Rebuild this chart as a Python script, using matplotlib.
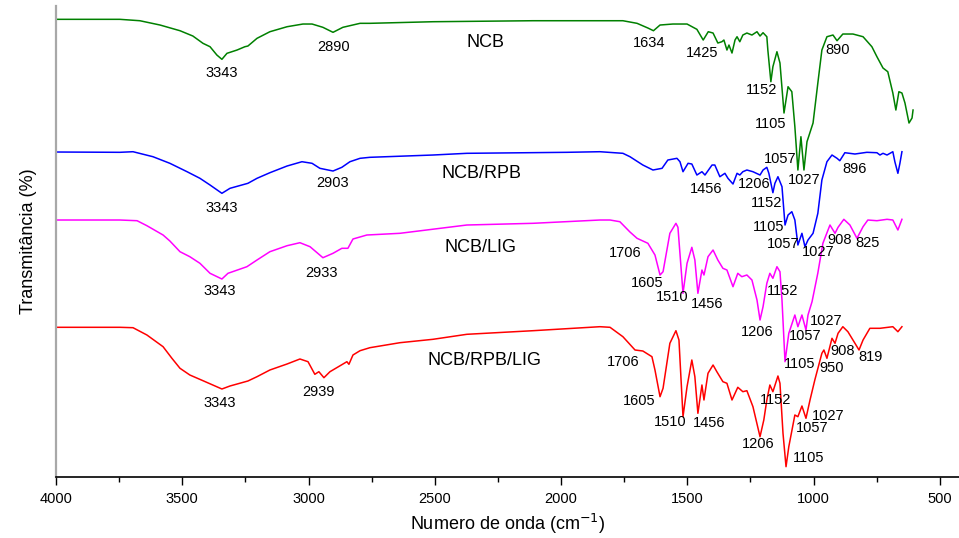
import matplotlib
matplotlib.use("Agg")
import matplotlib.pyplot as plt
from matplotlib.ticker import MultipleLocator

plt.rcParams['font.family'] = ['Liberation Sans', 'DejaVu Sans']

# ---------------- data (wavenumber cm-1, transmittance a.u.) ----------------
ncb_wn = [4000, 3747, 3668, 3588, 3509, 3458, 3418, 3390, 3363, 3343, 3323, 3283, 3252, 3240,
          3204, 3153, 3085, 3022, 2986, 2943, 2903, 2864, 2796, 2757, 2507, 2111, 1846, 1755,
          1699, 1656, 1634, 1608, 1557, 1501, 1462, 1437, 1417, 1398, 1379, 1363, 1355, 1343,
          1335, 1323, 1311, 1303, 1292, 1280, 1264, 1244, 1224, 1212, 1200, 1185, 1181, 1169,
          1161, 1145, 1133, 1117, 1101, 1086, 1074, 1062, 1050, 1038, 1026, 1002, 983, 967, 947,
          923, 907, 884, 844, 804, 769, 749, 725, 706, 686, 674, 662, 650, 638, 622, 610, 606]
ncb_t = [457.7, 457.7, 456.3, 452, 446.3, 441, 433.7, 430.3, 422, 417.7, 423.7, 427, 430.3, 431,
         438.7, 445.3, 450.3, 453, 453, 449.7, 444.7, 449.7, 453.7, 453.7, 455.3, 456.3, 456.3, 456.3,
         453.7, 449, 446.3, 452, 453, 453, 447.7, 437, 445.3, 444, 434, 435.3, 437, 427,
         432, 424, 437, 440.3, 435.3, 442, 444, 442, 445.3, 441, 444.3, 440.3, 427, 395.3,
         410.3, 425.3, 414, 364, 390.3, 385.3, 350.3, 307, 340.3, 307, 335.3, 354, 394, 427, 440.3,
         442, 436.3, 443, 443, 440.3, 430.3, 420.3, 409, 405.3, 384, 367, 385.3, 384, 374, 354, 359, 367]

rpb_wn = [4000, 3747, 3695, 3616, 3549, 3481, 3430, 3390, 3343, 3311, 3240, 3204, 3153, 3085,
          3026, 2986, 2955, 2903, 2868, 2836, 2796, 2757, 2507, 2373, 1977, 1846, 1755, 1727,
          1676, 1636, 1600, 1577, 1541, 1529, 1517, 1497, 1482, 1462, 1442, 1430, 1402, 1391,
          1371, 1351, 1339, 1319, 1303, 1292, 1280, 1264, 1240, 1212, 1200, 1185, 1177, 1161,
          1153, 1141, 1125, 1113, 1101, 1086, 1074, 1062, 1046, 1034, 1022, 1002, 983, 967, 947,
          927, 907, 896, 876, 836, 789, 749, 737, 725, 709, 686, 678, 666, 658, 650]
rpb_t = [325, 324.7, 325.3, 320.3, 313.7, 305.3, 298.7, 292, 283.7, 288.7, 293.7, 298.7, 304.3, 311,
         315.3, 313.7, 308.7, 306, 309.7, 315.3, 318.7, 319.7, 322, 323.7, 324.7, 325.3, 323.7, 320.3,
         312, 307, 308.7, 317, 318.7, 315.3, 305.3, 313.7, 313, 302, 305.3, 302, 312, 312,
         300.3, 303.7, 298.7, 293, 303.7, 302, 305.3, 307, 305.3, 302, 307, 309.7, 303.7, 284.3,
         293.7, 300.3, 290.3, 252, 262, 265.3, 257, 232, 243.7, 230.3, 237, 243.7, 263.7, 297, 315.3,
         322, 318.7, 316.3, 324.3, 323, 324.7, 324.3, 322, 323.7, 322, 325.3, 315.3, 303.7, 313.7, 325.3]

lig_wn = [4000, 3747, 3679, 3640, 3576, 3549, 3509, 3470, 3430, 3390, 3343, 3319, 3244, 3204,
          3153, 3085, 3034, 2994, 2943, 2903, 2868, 2844, 2824, 2769, 2638, 2373, 2111, 1846,
          1806, 1767, 1727, 1699, 1656, 1628, 1608, 1596, 1569, 1545, 1537, 1517, 1501, 1482,
          1470, 1458, 1442, 1434, 1418, 1398, 1379, 1359, 1343, 1319, 1300, 1284, 1264, 1244,
          1224, 1212, 1200, 1185, 1173, 1161, 1145, 1133, 1125, 1113, 1098, 1074, 1062, 1046,
          1030, 1022, 1006, 983, 963, 935, 915, 903, 880, 856, 828, 804, 785, 749, 709, 686, 666, 650]
lig_t = [257, 257, 256.3, 251.3, 242, 236, 225.3, 220.3, 213.7, 203.7, 198, 203.7, 210.3, 217,
         225.3, 231.3, 234.3, 230.3, 219.3, 223.7, 228.7, 228.7, 238, 242, 243.7, 252, 253.7, 257,
         257, 255.3, 245, 238.7, 233.7, 222, 202, 205.3, 243.7, 253.7, 249.7, 183.7, 213.7, 229.7,
         217, 183.7, 207, 202, 220.3, 227, 217, 208.7, 207, 190.3, 203.7, 200.3, 202, 197,
         177, 157, 170.3, 193.7, 203.7, 198.7, 210.3, 205.3, 177, 115.3, 143.7, 162, 150.3, 162,
         147, 162, 175.3, 204, 233.7, 252, 243.7, 249.7, 257.7, 252, 238.7, 250.3, 257, 256.3, 257.7, 257, 247, 257.7]

all_wn = [4000, 3747, 3695, 3640, 3576, 3541, 3509, 3470, 3418, 3343, 3311, 3240, 3204, 3153,
          3085, 3034, 3002, 2975, 2959, 2939, 2915, 2848, 2840, 2824, 2796, 2757, 2638, 2507,
          2373, 2111, 1846, 1806, 1755, 1707, 1676, 1640, 1628, 1608, 1596, 1569, 1545, 1533,
          1517, 1501, 1482, 1470, 1458, 1442, 1434, 1418, 1398, 1383, 1359, 1343, 1323, 1300,
          1280, 1264, 1240, 1212, 1197, 1185, 1173, 1161, 1141, 1133, 1121, 1109, 1098, 1074,
          1062, 1046, 1030, 1014, 995, 967, 959, 947, 927, 915, 903, 884, 864, 836, 820, 804,
          777, 737, 686, 666, 650]
all_t = [149.7, 149.7, 149.3, 142, 130.3, 118.7, 108.7, 102, 96.3, 88, 91, 96, 100.3, 107,
         113, 118, 115.3, 102.7, 105.3, 99.3, 105.3, 115.3, 112.7, 122, 126.3, 129.3, 134.3, 137.7,
         142.7, 146.3, 150.3, 149.7, 140.3, 127, 126, 120.3, 107, 80.3, 88.7, 133.7, 146.3, 137,
         60.3, 90.3, 117, 100.3, 63.7, 92, 77, 103.7, 112, 105.3, 95.3, 93.7, 77, 89.7,
         85.3, 86.3, 70.3, 40.3, 57, 77, 92, 85.3, 101, 93.7, 43.7, 10.3, 30.3, 62,
         60.3, 71, 58.7, 77, 97, 123.7, 127, 118.7, 138.7, 133.7, 143.7, 150.3, 145.3, 133.7, 127, 137,
         148.7, 148.7, 150.3, 145.3, 150.3]

series_names = ["NCB", "NCB/RPB", "NCB/LIG", "NCB/RPB/LIG"]
series_colors = ["#008000", "#0000ff", "#ff00ff", "#ff0000"]

# peak labels: (text, wavenumber position, transmittance position)
ncb_labels = [("3343", 3343, 404), ("2890", 2900, 430), ("1634", 1652, 434), ("1425", 1442, 424),
              ("1152", 1204, 387), ("1105", 1169, 353), ("1057", 1133, 318), ("1027", 1038, 297),
              ("890", 903, 427)]
rpb_labels = [("3343", 3343, 269), ("2903", 2903, 294), ("1456", 1426, 288), ("1206", 1236, 293),
              ("1152", 1185, 274), ("1105", 1177, 250), ("1057", 1121, 233), ("1027", 983, 225),
              ("896", 836, 308)]
lig_labels = [("3343", 3351, 186), ("2933", 2947, 204), ("1706", 1747, 224), ("1605", 1660, 194),
              ("1510", 1561, 180), ("1456", 1422, 173), ("1152", 1121, 186), ("908", 896, 237),
              ("825", 785, 234), ("1206", 1224, 145), ("1027", 951, 156), ("1057", 1034, 141),
              ("1105", 1054, 113)]
all_labels = [("3343", 3351, 74), ("2939", 2959, 85), ("1706", 1755, 115), ("1605", 1692, 76),
              ("1510", 1569, 55), ("1456", 1414, 54), ("1152", 1149, 77), ("1206", 1220, 33),
              ("1027", 943, 61), ("1057", 1006, 49), ("1105", 1018, 19), ("950", 927, 109),
              ("908", 884, 126), ("819", 773, 120)]
name_pos = [(2301, 435), (2313, 304), (2317, 230), (2305, 116)]

# ---------------- figure ----------------
fig = plt.figure(figsize=(9.59, 5.38), dpi=100)
ax = fig.add_axes([0.0584, 0.1134, 0.9416, 0.8754])

spectra = [(ncb_wn, ncb_t), (rpb_wn, rpb_t), (lig_wn, lig_t), (all_wn, all_t)]
for (wn, t), c in zip(spectra, series_colors):
    ax.plot(wn, t, color=c, lw=1.1, solid_joinstyle='round')

for labels in (ncb_labels, rpb_labels, lig_labels, all_labels):
    for txt, x, y in labels:
        ax.text(x, y, txt, fontsize=10.5, ha='center', va='center', color='black')

for name, (x, y) in zip(series_names, name_pos):
    ax.text(x, y, name, fontsize=13, ha='center', va='center', color='black')

ax.set_xlim(4000, 424)
ax.set_ylim(0, 471)
ax.xaxis.set_major_locator(MultipleLocator(500))
ax.xaxis.set_minor_locator(MultipleLocator(250))
ax.tick_params(axis='x', which='major', direction='out', length=6, width=1, labelsize=10.5, pad=5)
ax.tick_params(axis='x', which='minor', direction='out', length=3.5, width=1)
ax.set_yticks([])
ax.spines['top'].set_visible(False)
ax.spines['right'].set_visible(False)
ax.spines['left'].set_color('#a8a8a8')
ax.spines['left'].set_linewidth(1.6)
ax.spines['bottom'].set_linewidth(1.2)

ax.set_xlabel("Numero de onda (cm$^{-1}$)", fontsize=13, labelpad=4)
ax.set_ylabel("Transmitância (%)", fontsize=13, labelpad=14)

fig.savefig("out.png", dpi=100)
